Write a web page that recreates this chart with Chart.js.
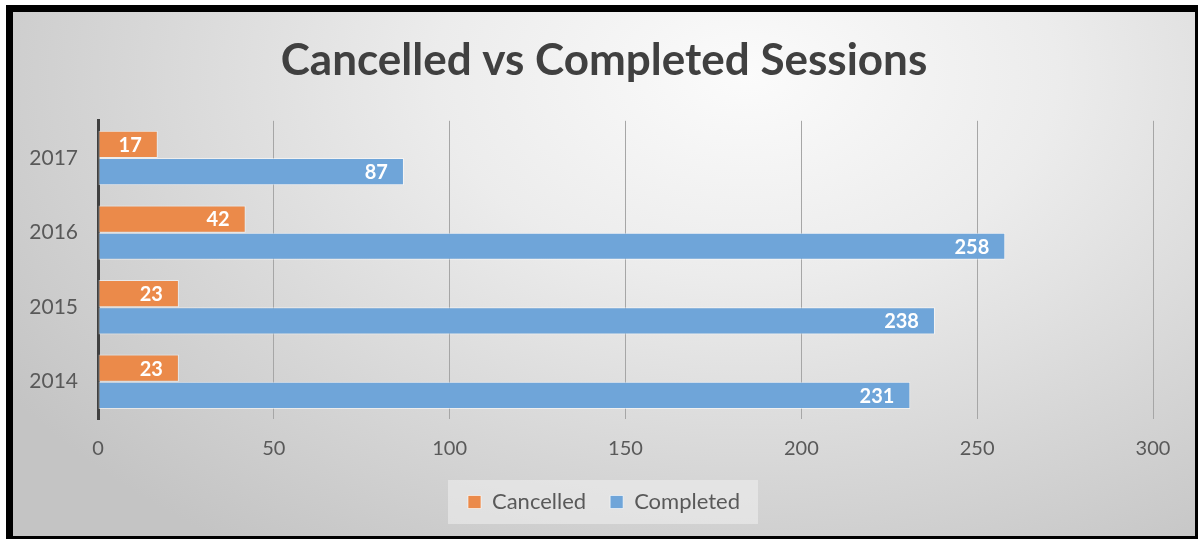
<!DOCTYPE html>
<html>
<head>
<meta charset="utf-8">
<script src="https://cdn.jsdelivr.net/npm/chart.js@4"></script>
<style>
html,body{margin:0;padding:0;background:#fff;width:1198px;height:539px;overflow:hidden;}
#frame{position:absolute;left:6px;top:5px;width:1192px;height:534px;box-sizing:border-box;
  border-style:solid;border-color:#000;border-width:7px 3px 3px 7px;
  background:radial-gradient(ellipse 75% 110% at 62% 12%, #fbfbfb 0%, #ececec 35%, #d6d6d6 70%, #c4c4c4 100%);}
#wrap{position:absolute;left:0;top:0;width:1182px;height:524px;}
</style>
</head>
<body>
<div id="frame"><div id="wrap"><canvas id="c" width="1182" height="524"></canvas></div></div>
<script>
const categories = ['2017', '2016', '2015', '2014'];
const cancelled = [17, 42, 23, 23];
const completed = [87, 258, 238, 231];
const xTicks = [0, 50, 100, 150, 200, 250, 300];

const labelPlugin = {
  id: 'barLabels',
  afterDatasetsDraw(chart) {
    const ctx = chart.ctx;
    ctx.save();
    ctx.font = 'bold 20px Lato, "Open Sans", sans-serif';
    ctx.fillStyle = '#ffffff';
    ctx.textAlign = 'right';
    ctx.textBaseline = 'middle';
    chart.data.datasets.forEach((ds, i) => {
      const meta = chart.getDatasetMeta(i);
      meta.data.forEach((el, j) => {
        ctx.fillText(String(ds.data[j]), el.x - 16, el.y + 1);
      });
    });
    ctx.restore();
  }
};

const centerBlocks = {
  id: 'centerBlocks',
  afterLayout(chart) {
    [chart.titleBlock, chart.legend].forEach(b => {
      if (b) { b.left = 0; b.right = chart.width; b.width = chart.width; }
    });
  }
};

const legendBg = {
  id: 'legendBg',
  beforeDraw(chart) {
    const lg = chart.legend;
    if (!lg || !lg.legendHitBoxes || !lg.legendHitBoxes.length) return;
    const boxes = lg.legendHitBoxes;
    const minX = Math.min(...boxes.map(b => b.left));
    const maxX = Math.max(...boxes.map(b => b.left + b.width));
    const cy = boxes[0].top + boxes[0].height / 2;
    const ctx = chart.ctx;
    ctx.save();
    ctx.fillStyle = 'rgba(240,240,240,0.55)';
    ctx.fillRect(minX - 20, cy - 22, (maxX - minX) + 38, 44);
    ctx.restore();
  }
};

new Chart(document.getElementById('c'), {
  type: 'bar',
  data: {
    labels: categories,
    datasets: [
      { label: 'Cancelled', data: cancelled, backgroundColor: '#EB8A4A', borderColor: 'rgba(255,255,255,0.55)', borderWidth: 1, borderSkipped: false },
      { label: 'Completed', data: completed, backgroundColor: '#6FA5D9', borderColor: 'rgba(255,255,255,0.55)', borderWidth: 1, borderSkipped: false }
    ]
  },
  options: {
    indexAxis: 'y',
    responsive: false,
    animation: false,
    devicePixelRatio: 1,
    datasets: { bar: { barPercentage: 1, categoryPercentage: 0.73 } },
    layout: { padding: { left: 0, right: 42, top: 0, bottom: 13 } },
    scales: {
      x: {
        min: 0, max: 300,
        afterBuildTicks(scale) { scale.ticks = xTicks.map(v => ({ value: v })); },
        grid: { color: '#a6a6a6', lineWidth: 1, drawTicks: false },
        border: { display: false },
        ticks: { color: '#595959', font: { family: 'Lato, "Open Sans", sans-serif', size: 20 }, padding: 18 },
        afterFit(scale) { scale.height = 48; }
      },
      y: {
        grid: { display: false, drawTicks: false },
        border: { display: true, color: '#404040', width: 3 },
        ticks: { color: '#595959', font: { family: 'Lato, "Open Sans", sans-serif', size: 21 }, padding: 20 },
        afterFit(scale) { scale.width = 85; }
      }
    },
    plugins: {
      title: {
        display: true,
        text: 'Cancelled vs Completed Sessions',
        color: '#404040',
        font: { family: 'Lato, "Open Sans", sans-serif', size: 44, weight: 'bold', lineHeight: 1.2 },
        padding: { top: 22, bottom: 34 }
      },
      legend: {
        position: 'bottom',
        labels: {
          color: '#595959',
          font: { family: 'Lato, "Open Sans", sans-serif', size: 22 },
          boxWidth: 13, boxHeight: 13, padding: 24,
          generateLabels(chart) {
            return chart.data.datasets.map((ds, i) => ({
              text: ds.label, fillStyle: ds.backgroundColor, strokeStyle: 'rgba(255,255,255,0.6)', lineWidth: 1,
              fontColor: '#595959', hidden: false, datasetIndex: i
            }));
          }
        }
      },
      tooltip: { enabled: false }
    }
  },
  plugins: [centerBlocks, labelPlugin, legendBg]
});
</script>
</body>
</html>
